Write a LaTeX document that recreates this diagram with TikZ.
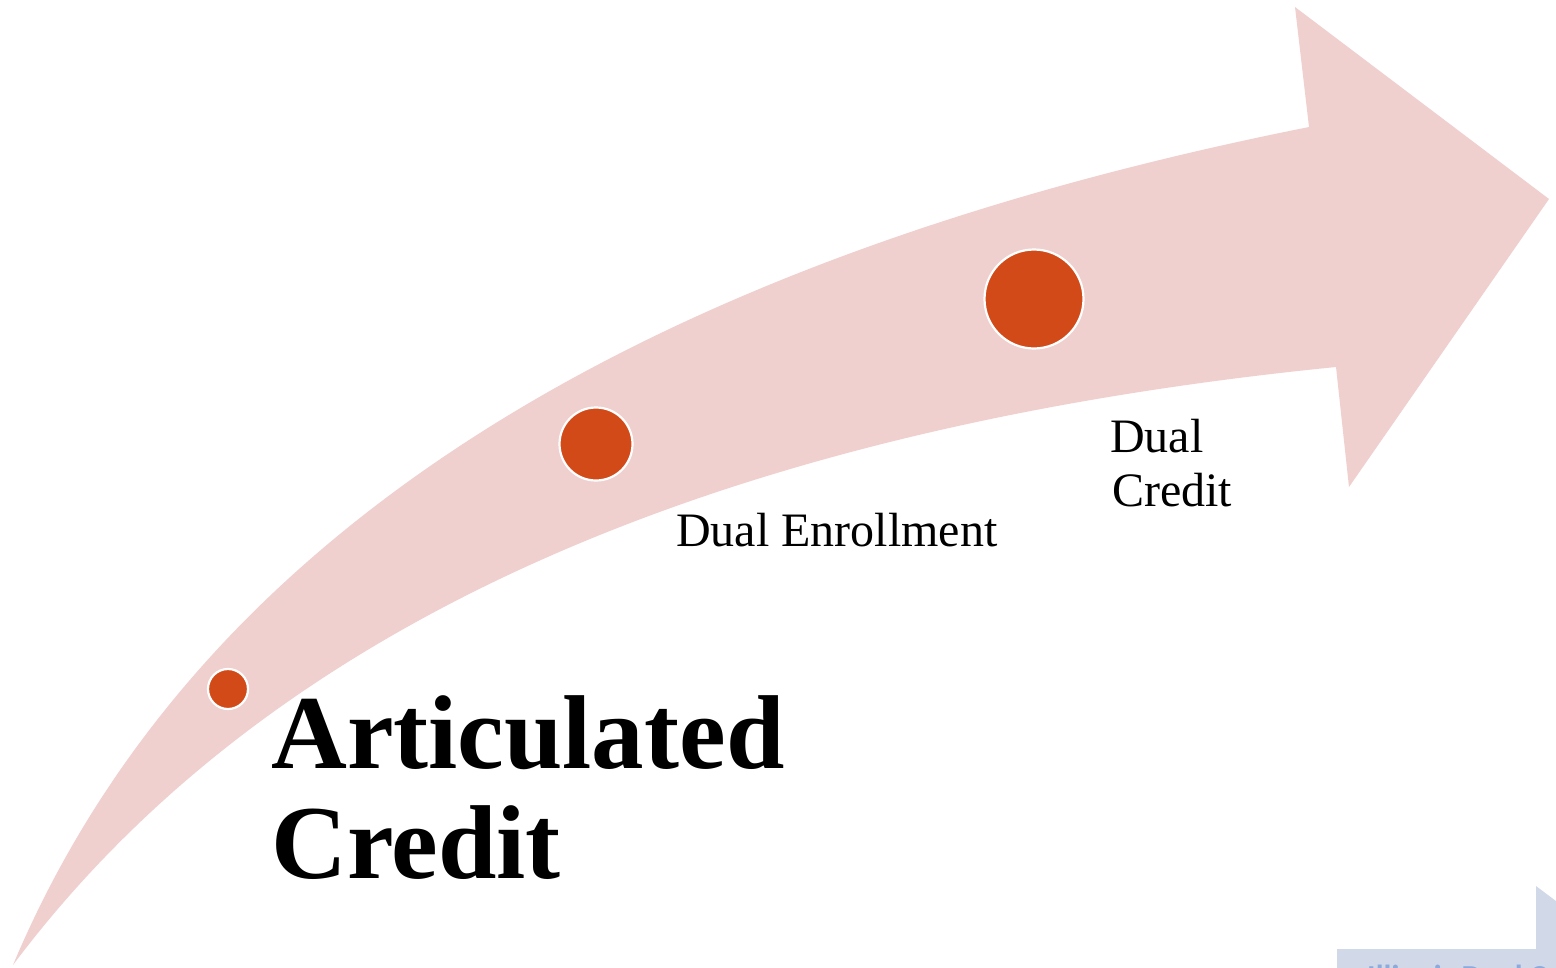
\documentclass[tikz,border=0pt]{standalone}
\usepackage{fontspec}
\setmainfont{Liberation Serif}
\newfontfamily\tagfont{Carlito}
\begin{document}
\begin{tikzpicture}[x=1pt,y=-1pt,
  bandcol/.style={fill={rgb,255:red,239;green,208;blue,206}},
  dot/.style={circle,fill={rgb,255:red,210;green,74;blue,24},draw=white,line width=2.2pt,inner sep=0pt},
  bigtitle/.style={anchor=base west,inner sep=0pt,font=\fontsize{105}{110}\selectfont\bfseries},
  steptext/.style={anchor=base west,inner sep=0pt,font=\fontsize{48}{54}\selectfont},
  tabcol/.style={fill={rgb,255:red,209;green,217;blue,232}}]
\useasboundingbox (0,0) rectangle (1556,967);
\fill[white] (0,0) rectangle (1556,967);

% curved arrow band: outer edge, head, inner edge back to the tail
\fill[bandcol]
  (13,965) .. controls (190,544) and (622,264) .. (1309,127)
  -- (1295,7) -- (1549,199) -- (1349,487) -- (1336,367)
  .. controls (705,430) and (264,630) .. (13,965)
  -- cycle;

% stage markers
\node[dot,minimum size=40pt] (m1) at (228,689) {};
\node[dot,minimum size=73pt] (m2) at (596,444) {};
\node[dot,minimum size=99pt] (m3) at (1034,299) {};

% labels
\node[bigtitle] (ac1) at (271,768) {Articulated};
\node[bigtitle] (ac2) at (271,878) {Credit};
\node[steptext] (de) at (676,546) {Dual Enrollment};
\node[steptext] (dc1) at (1110,452) {Dual};
\node[steptext] (dc2) at (1112,506) {Credit};

% footer tab
\begin{scope}
  \clip (0,0) rectangle (1556,967);
  \fill[tabcol] (1337,949) rectangle (1556,975);
  \fill[tabcol] (1536,949) -- (1536,886) -- (1556,901) -- (1556,949) -- cycle;
  \node[anchor=base west,inner sep=0pt,text={rgb,255:red,141;green,170;blue,219},
        font=\tagfont\bfseries\fontsize{32}{36}\selectfont] (ft) at (1367,987) {Illinois Dual Credit};
\end{scope}
\end{tikzpicture}
\end{document}
